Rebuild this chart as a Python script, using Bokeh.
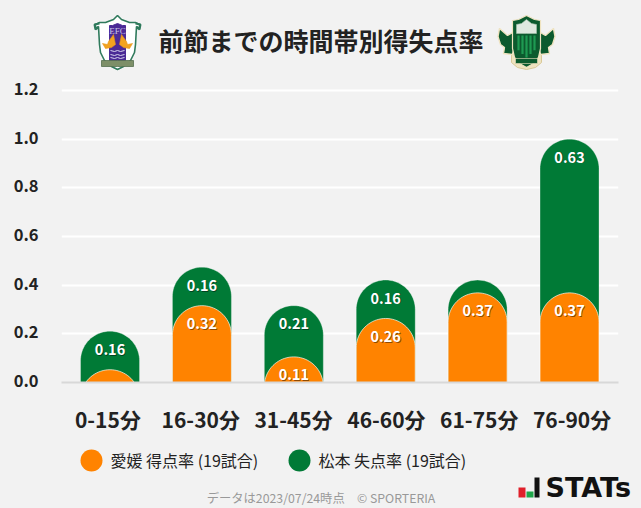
import numpy as np
from bokeh.embed import file_html
from bokeh.resources import INLINE
from bokeh.layouts import column
from bokeh.models import Range1d, FixedTicker, ColumnDataSource, LinearAxis, Grid
from bokeh.plotting import figure
from bokeh.core.properties import value

categories = ["0-15分", "16-30分", "31-45分", "46-60分", "61-75分", "76-90分"]
ehime_for = [0.0526, 0.3158, 0.1053, 0.2632, 0.3684, 0.3684]
matsumoto_against = [0.1579, 0.1579, 0.2105, 0.1579, 0.0526, 0.6316]
y_ticks = [0.0, 0.2, 0.4, 0.6, 0.8, 1.0, 1.2]
title_text = "前節までの時間帯別得失点率"
legend_a = "愛媛 得点率 (19試合)"
legend_b = "松本 失点率 (19試合)"
footer_text = "データは2023/07/24時点\u3000© SPORTERIA"
label_min = 0.1

BG = "#f2f2f2"
ORANGE = "#ff8300"
GREEN = "#007a36"
INK = "#222222"
FONT = "Noto Sans CJK JP"
W = 641
FRAME_W = 557
PX_PER_UNIT = 292 / 1.2
FRAME_H = 297
Y_TOP = FRAME_H / PX_PER_UNIT  # a little above 1.2 so the top tick and its label stay inside
X_START, X_END = -0.028, 6.033
BAR_W = 0.642
Y_LABEL_LIFT = 2 / PX_PER_UNIT  # tick labels sit 2px above their gridlines


def pixel_fig(height, y_top):
    f = figure(width=W, height=height, output_backend="svg", toolbar_location=None,
               x_range=Range1d(0, W), y_range=Range1d(y_top + height, y_top),
               x_axis_location=None, y_axis_location=None, frame_align=False,
               min_border=0, background_fill_color=BG, border_fill_color=BG,
               outline_line_color=None)
    f.grid.visible = False
    return f


def mirror(cx, half):
    """Closed outline from right-half offsets, symmetric about cx."""
    xs = [cx + dx for dx, _ in half] + [cx - dx for dx, _ in reversed(half)]
    ys = [y for _, y in half] + [y for _, y in reversed(half)]
    return xs, ys


def draw_shape(f, cx, half, fill, line=None, lw=1.0):
    xs, ys = mirror(cx, half)
    f.patch(xs, ys, fill_color=fill, line_color=line or fill, line_width=lw)


# ---------- header ----------
head = pixel_fig(72, 0)
head.text([320.5], [39], text=[title_text], text_font=value(FONT), text_font_style="bold",
          text_font_size="25px", text_color=INK, text_align="center", text_baseline="middle")

# Ehime crest
c1 = 117
draw_shape(head, c1, [(0, 15), (4, 19), (12, 22), (18, 22), (22, 24), (22, 28), (19, 26), (18, 44),
                      (17, 52), (13, 60), (6, 66), (0, 69)], "#ffffff", "#2f7a5c", 1.6)
for sgn in (-1, 1):
    head.line([c1 + sgn * 18, c1 + sgn * 23, c1 + sgn * 22, c1 + sgn * 19],
              [23, 24, 29, 27], line_color="#2f7a5c", line_width=2)
draw_shape(head, c1, [(0, 23), (5, 25), (8, 25), (8, 60), (0, 60)], "#4b2a96")
for y0 in (50, 54, 57):
    head.line([c1 - 7, c1 - 3, c1, c1 + 3, c1 + 7], [y0, y0 + 1, y0, y0 + 1, y0],
              line_color="#d8d4ee", line_width=1)
head.text([c1], [30], text=["EFC"], text_font=value("Liberation Serif"), text_font_size="9px",
          text_color="#c9c3e6", text_align="center", text_baseline="middle")
for sgn in (-1, 1):
    head.patch([c1 + sgn * 4, c1 + sgn * 9, c1 + sgn * 10, c1 + sgn * 15, c1 + sgn * 12, c1 + sgn * 6, c1 + sgn * 2],
               [34, 41, 44, 43, 48, 47, 44], fill_color="#f2a31f", line_color="#e8961a", line_width=0.6)
draw_shape(head, c1, [(0, 60), (16, 60), (16, 66), (0, 66)], "#7d8f68", "#56704f", 0.8)

# Matsumoto crest
c2 = 526
draw_shape(head, c2, [(0, 50), (15, 52), (15, 62), (9, 67), (0, 69)], "#efe3c0", "#d9c998", 1.0)
for sgn in (-1, 1):
    head.patch([c2 + sgn * d for d in (12, 19, 27, 28.5, 26, 22, 23, 14, 11)],
               [31, 35, 28, 36, 44, 47, 53, 54, 42],
               fill_color="#0c5a2e", line_color="#efe3c0", line_width=1.4)
draw_shape(head, c2, [(0, 15), (8, 19), (14, 20), (14, 48), (12, 57), (7, 63), (0, 67)],
           "#0c5a2e", "#efe3c0", 1.2)
draw_shape(head, c2, [(0, 19), (5, 23), (10, 24), (10, 33), (0, 33)], "#dfe8df", "#a9c4ae", 0.6)
for dx in (-8, -4, 0, 4, 8):
    head.quad(left=c2 + dx - 1.1, right=c2 + dx + 1.1, top=35, bottom=57 - abs(dx) * 0.9,
              fill_color="#1f9a52", line_color=None)
head.quad(left=c2 - 11, right=c2 + 11, top=58, bottom=63, fill_color="#0c5a2e", line_color="#efe3c0", line_width=0.6)

# ---------- chart ----------
main = figure(width=W, height=364, output_backend="svg", toolbar_location=None,
              x_range=Range1d(X_START, X_END), y_range=Range1d(0, Y_TOP), frame_align=False,
              x_axis_location=None, y_axis_location=None,
              min_border_left=61, min_border_right=23, min_border_top=13, min_border_bottom=54,
              background_fill_color=BG, border_fill_color=BG, outline_line_color=None)
main.grid.visible = False
main.extra_x_ranges = {"cat": Range1d(0, len(categories))}
main.extra_y_ranges = {"lab": Range1d(-Y_LABEL_LIFT, Y_TOP - Y_LABEL_LIFT)}

centers = np.arange(len(categories)) + 0.5
r_y = (BAR_W / 2) * (FRAME_W / (X_END - X_START)) / PX_PER_UNIT  # circular cap in pixels
theta = np.linspace(np.pi, 0, 41)


def rounded_bars(tops):
    xs, ys = [], []
    for c, t in zip(centers, tops):
        arc_x = c + BAR_W / 2 * np.cos(theta)
        arc_y = t - r_y + r_y * np.sin(theta)
        base = min(0.0, t - r_y)
        xs.append([c - BAR_W / 2, *arc_x, c + BAR_W / 2])
        ys.append([base, *arc_y, base])
    return xs, ys


main.add_layout(Grid(dimension=1, ticker=FixedTicker(ticks=y_ticks),
                     grid_line_color="#ffffff", grid_line_width=2))

totals = [a + b for a, b in zip(ehime_for, matsumoto_against)]
gx, gy = rounded_bars(totals)
ox, oy = rounded_bars(ehime_for)
main.patches(gx, gy, fill_color=GREEN, line_color="#ffffff", line_alpha=0.3, line_width=1)
main.patches(ox, oy, fill_color=ORANGE, line_color="#ffffff", line_alpha=0.65, line_width=1)

lab_x, lab_y, lab_t = [], [], []
for c, o, g, t in zip(centers, ehime_for, matsumoto_against, totals):
    if o >= label_min:
        lab_x.append(c); lab_y.append(o); lab_t.append(f"{o:.2f}")
    if g >= label_min:
        lab_x.append(c); lab_y.append(t); lab_t.append(f"{g:.2f}")
lab = ColumnDataSource(dict(x=lab_x, y=lab_y, t=lab_t))
main.text("x", "y", text="t", source=lab, x_offset=0.8, y_offset=18.8, text_color="#000000", text_alpha=0.45,
          text_font=value(FONT), text_font_style="bold", text_font_size="14.5px",
          text_align="center", text_baseline="middle")
main.text("x", "y", text="t", source=lab, y_offset=18, text_color="#ffffff",
          text_font=value(FONT), text_font_style="bold", text_font_size="14.5px",
          text_align="center", text_baseline="middle")

xa = LinearAxis(x_range_name="cat", ticker=FixedTicker(ticks=list(centers)))
xa.major_label_overrides = {float(c): n for c, n in zip(centers, categories)}
xa.major_label_text_font = FONT
xa.major_label_text_font_style = "bold"
xa.major_label_text_font_size = "21px"
xa.major_label_text_color = INK
xa.major_label_standoff = 15
xa.major_tick_line_color = None
xa.minor_tick_line_color = None
xa.axis_line_color = "#d8d8d8"
xa.axis_line_width = 2
main.add_layout(xa, "below")

ya = LinearAxis(y_range_name="lab", ticker=FixedTicker(ticks=y_ticks))
ya.major_label_overrides = {v: f"{v:.1f}" for v in y_ticks}
ya.major_label_text_font = FONT
ya.major_label_text_font_style = "bold"
ya.major_label_text_font_size = "16.5px"
ya.major_label_text_color = INK
ya.major_label_standoff = 17
ya.major_tick_line_color = None
ya.minor_tick_line_color = None
ya.axis_line_color = None
main.add_layout(ya, "left")

# ---------- legend & footer ----------
foot = pixel_fig(72, 436)
foot.scatter([91, 299], [460, 460], size=22, marker="circle",
             color=[ORANGE, GREEN], line_color=None)
foot.text([110, 318], [459, 459], text=[legend_a, legend_b], text_font=value(FONT),
          text_font_size="16px", text_color=INK, text_align="left", text_baseline="middle")
foot.text([320.5], [497], text=[footer_text], text_font=value(FONT), text_font_size="12.3px",
          text_color="#999999", text_align="center", text_baseline="middle")
foot.quad(left=[518, 526, 534], right=[525, 533, 539], top=[487, 491, 477], bottom=[497, 497, 497],
          fill_color=["#e0202a", "#1fa64a", "#111111"], line_color=None)
foot.text([545], [487], text=["STATs"], text_font=value("DejaVu Sans"), text_font_style="bold",
          text_font_size="27px", text_color="#111111", text_align="left", text_baseline="middle")

page = column(head, main, foot, spacing=0)
html = file_html(page, INLINE)
html = html.replace("<head>", f"<head><style>body{{background:{BG}}}</style>", 1)
open("out.html", "w").write(html)
